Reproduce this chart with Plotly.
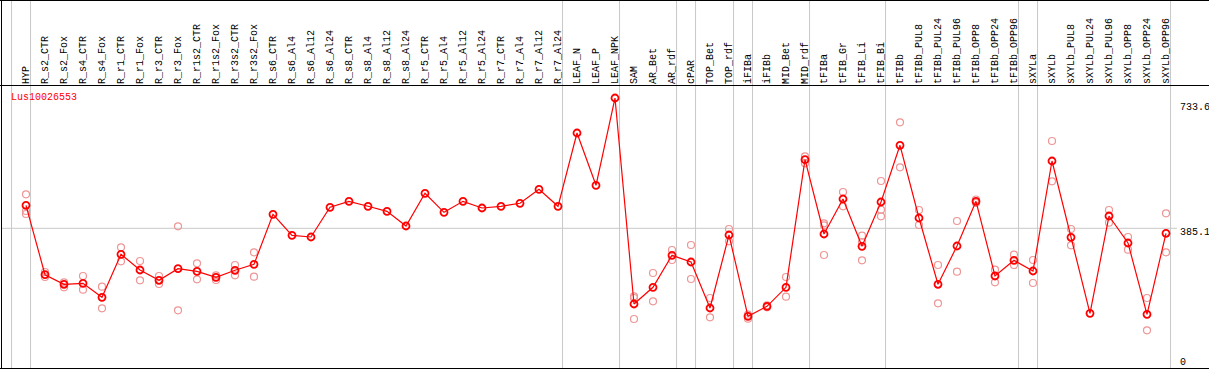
import plotly.graph_objects as go

# ---------------- data ----------------
categories = [
    "HYP", "R_s2_CTR", "R_s2_Fox", "R_s4_CTR", "R_s4_Fox", "R_r1_CTR", "R_r1_Fox",
    "R_r3_CTR", "R_r3_Fox", "R_r1s2_CTR", "R_r1s2_Fox", "R_r3s2_CTR", "R_r3s2_Fox",
    "R_s6_CTR", "R_s6_Al4", "R_s6_Al12", "R_s6_Al24", "R_s8_CTR", "R_s8_Al4",
    "R_s8_Al12", "R_s8_Al24", "R_r5_CTR", "R_r5_Al4", "R_r5_Al12", "R_r5_Al24",
    "R_r7_CTR", "R_r7_Al4", "R_r7_Al12", "R_r7_Al24", "LEAF_N", "LEAF_P", "LEAF_NPK",
    "SAM", "AR_Bet", "AR_rdf", "cPAR", "TOP_Bet", "TOP_rdf", "iFIBa", "iFIBb",
    "MID_Bet", "MID_rdf", "tFIBa", "tFIB_Gr", "tFIB_Li", "tFIB_Bi", "tFIBb",
    "tFIBb_PUL8", "tFIBb_PUL24", "tFIBb_PUL96", "tFIBb_OPP8", "tFIBb_OPP24",
    "tFIBb_OPP96", "sXYLa", "sXYLb", "sXYLb_PUL8", "sXYLb_PUL24", "sXYLb_PUL96",
    "sXYLb_OPP8", "sXYLb_OPP24", "sXYLb_OPP96",
]

means = [
    446.6, 261.0, 235.4, 238.0, 200.6, 315.6, 273.6, 246.1, 277.1, 270.1, 254.1,
    272.8, 288.8, 422.6, 366.4, 361.9, 441.3, 457.3, 444.0, 430.6, 391.3, 478.7,
    427.9, 457.3, 439.4, 444.0, 452.0, 489.4, 444.0, 640.0, 500.1, 733.6, 182.7,
    227.3, 312.9, 295.0, 172.0, 367.2, 149.8, 176.5, 227.3, 568.6, 369.9, 463.5,
    337.0, 455.5, 607.1, 412.7, 235.4, 337.8, 457.3, 257.6, 299.5, 270.9, 565.1,
    361.1, 157.8, 418.0, 345.8, 155.1, 371.8,
]

replicates = [
    [476.1, 431.4, 423.4], [268.3, 254.9], [240.7, 227.3], [257.6, 220.9],
    [228.9, 171.2], [334.3, 296.9], [297.7, 246.1], [257.6, 236.2],
    [390.5, 165.8], [291.5, 248.7], [259.4, 246.9], [287.0, 259.4],
    [320.9, 255.7],
    [], [], [], [], [], [], [], [], [], [], [], [], [], [], [], [],
    [], [], [],
    [203.3, 198.7, 142.6], [265.6, 189.9], [327.1, 300.3], [340.5, 249.5],
    [198.7, 147.1], [383.3, 350.4], [154.1, 143.4], [179.2, 173.8],
    [254.9, 202.2], [577.7, 559.0], [398.5, 393.2, 313.7], [482.2, 444.0],
    [365.3, 348.5, 299.5], [511.6, 434.9, 417.2], [668.6, 548.3],
    [434.1, 394.0], [287.0, 184.5], [404.7, 269.1], [462.2, 452.8],
    [274.4, 240.7], [314.5, 287.0], [300.3, 238.8], [618.6, 510.8],
    [383.3, 339.7], [], [434.1, 400.1], [361.9, 327.9], [198.7, 112.3],
    [425.2, 320.9],
]

gene_name = "Lus10026553"
ref_value = 385.1
right_labels = ["733.6", "385.1", "0"]
group_ends = [-1, 0, 28, 31, 34, 35, 37, 38, 41, 45, 52, 53, 60]

# ---------------- layout geometry ----------------
W, H = 1209, 370
ML, MR, MT, MB = 1, 0, 86, 1
PW, PH = W - ML - MR, H - MT - MB
first_px, step_px = 26.0, 19.0
zero_px, px_per_unit = 372.3, 0.3739

x_range = [(ML - first_px) / step_px, (W - MR - first_px) / step_px]
y_range = [(zero_px - (H - MB)) / px_per_unit, (zero_px - MT) / px_per_unit]


def pxx(px):
    return (px - ML) / PW


def pxy(py):
    return (H - MB - py) / PH


def idx_to_paper(i):
    return (i - x_range[0]) / (x_range[1] - x_range[0])


rep_x, rep_y = [], []
for cat, reps in zip(categories, replicates):
    for v in reps:
        rep_x.append(cat)
        rep_y.append(v)

fig = go.Figure()
fig.add_trace(go.Scatter(
    x=rep_x, y=rep_y, mode="markers", cliponaxis=False,
    marker=dict(symbol="circle-open", size=7, color="rgb(238,150,150)",
                line=dict(width=1.2, color="rgb(238,150,150)")),
    hoverinfo="skip", showlegend=False,
))
fig.add_trace(go.Scatter(
    x=categories, y=means, mode="lines+markers", cliponaxis=False,
    line=dict(color="#ff0000", width=1.2),
    marker=dict(symbol="circle-open", size=7, color="#ff0000",
                line=dict(width=1.8, color="#ff0000")),
    showlegend=False,
))

top_paper = pxy(0.5)
shapes = []
for g in group_ends:
    xp = idx_to_paper(g + 0.24)
    shapes.append(dict(type="line", xref="paper", yref="paper", x0=xp, x1=xp,
                       y0=0, y1=top_paper, layer="below",
                       line=dict(color="rgb(200,200,200)", width=1)))
shapes.append(dict(type="line", xref="paper", yref="y", x0=0, x1=pxx(1177),
                   y0=ref_value, y1=ref_value, layer="below",
                   line=dict(color="rgb(200,200,200)", width=1)))
# frame
blk = dict(color="black", width=1)
shapes += [
    dict(type="line", xref="paper", yref="paper", x0=pxx(0), x1=1, y0=top_paper, y1=top_paper, line=blk),
    dict(type="line", xref="paper", yref="paper", x0=pxx(0), x1=1, y0=pxy(85.5), y1=pxy(85.5), line=blk),
    dict(type="line", xref="paper", yref="paper", x0=pxx(0), x1=1, y0=pxy(368.5), y1=pxy(368.5), line=blk),
    dict(type="line", xref="paper", yref="paper", x0=pxx(1.5), x1=pxx(1.5), y0=pxy(369), y1=top_paper, line=blk),
]

mono = "Liberation Mono"
annotations = [dict(text=gene_name, xref="paper", yref="paper", x=pxx(9), y=pxy(97),
                    xanchor="left", yanchor="middle", showarrow=False,
                    font=dict(family=mono, size=10, color="#ff0000"))]
for lab, py in zip(right_labels, [107, 232, 362]):
    annotations.append(dict(text=lab, xref="paper", yref="paper", x=pxx(1178), y=pxy(py),
                            xanchor="left", yanchor="middle", showarrow=False,
                            font=dict(family=mono, size=10, color="black")))

fig.update_layout(
    width=W, height=H,
    margin=dict(l=ML, r=MR, t=MT, b=MB, pad=0),
    paper_bgcolor="white", plot_bgcolor="white",
    xaxis=dict(type="category", categoryorder="array", categoryarray=categories,
               range=x_range, side="top", tickangle=-90, ticks="",
               tickfont=dict(family=mono, size=10, color="black"),
               showgrid=False, zeroline=False, showline=False, automargin=False,
               ticklabelstandoff=1),
    yaxis=dict(range=y_range, showticklabels=False, showgrid=False,
               zeroline=False, showline=False, automargin=False),
    shapes=shapes, annotations=annotations,
)

fig.write_html(
    "out.html",
    config={"displayModeBar": False},
    post_script="document.body.style.margin='0';document.body.style.overflow='hidden';",
)
